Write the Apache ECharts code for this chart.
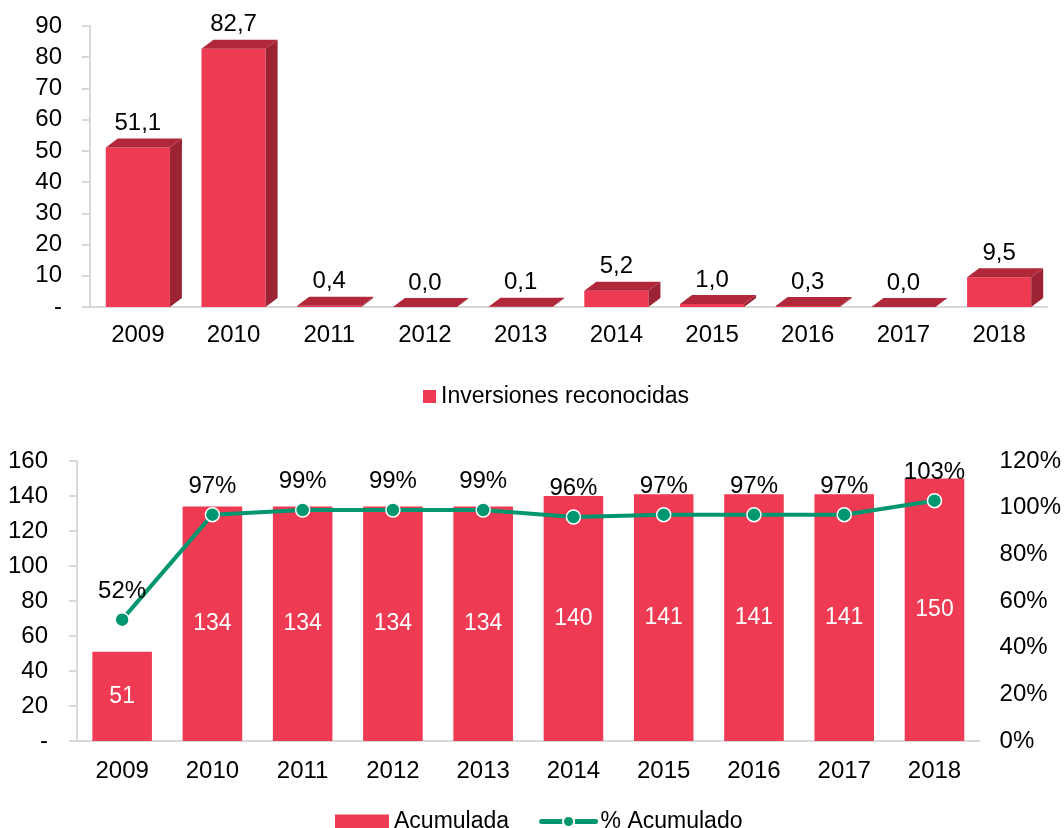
<!DOCTYPE html>
<html>
<head>
    <meta charset="utf-8">
    <title>Inversiones reconocidas</title>
    <script src="https://cdn.jsdelivr.net/npm/echarts@6/dist/echarts.min.js"></script>
    <style type="text/css">
        * {
            margin: 0px;
            padding: 0px;
        }

        #main {
            width: 1064px;
            height: 828px;
            background: #fff;
        }
    </style>
</head>
<body>
<div id="main"></div>
<script type="text/javascript">
    // datos
    var years = ['2009', '2010', '2011', '2012', '2013', '2014', '2015', '2016', '2017', '2018'];
    var inversiones = [51.1, 82.7, 0.4, 0.0, 0.1, 5.2, 1.0, 0.3, 0.0, 9.5];
    var acumulada = [51, 134, 134, 134, 134, 140, 141, 141, 141, 150];
    var pctAcumulado = [52, 97, 99, 99, 99, 96, 97, 97, 97, 103];

    var font = 'Liberation Sans, Arial, sans-serif';
    var fs = 24;
    var red = '#ee3a52';
    var redSide = '#9c2334';
    var redTop = '#b1283b';
    var green = '#00966f';
    var axisGray = '#d9d9d9';

    var myChart = echarts.init(document.getElementById('main'));

    // barra con efecto 3D (cara frontal, lateral y superior)
    function render3d(params, api) {
        var v = api.value(1);
        var base = api.coord([api.value(0), 0]);
        var top = api.coord([api.value(0), v]);
        var w = api.size([1, 0])[0] * 0.67;
        var dx = 12, dy = 9;
        var x0 = base[0] - w / 2, x1 = base[0] + w / 2;
        var yb = base[1], yt = top[1];
        return {
            type: 'group',
            children: [
                {type: 'polygon', shape: {points: [[x0, yb], [x1, yb], [x1, yt], [x0, yt]]}, style: {fill: red}},
                {type: 'polygon', shape: {points: [[x1, yb], [x1 + dx, yb - dy], [x1 + dx, yt - dy], [x1, yt]]}, style: {fill: redSide}},
                {type: 'polygon', shape: {points: [[x0, yt], [x1, yt], [x1 + dx, yt - dy], [x0 + dx, yt - dy]]}, style: {fill: redTop}},
                {
                    type: 'text',
                    style: {
                        x: base[0], y: yt - dy - 3,
                        text: v.toFixed(1).replace('.', ','),
                        align: 'center', verticalAlign: 'bottom',
                        fill: '#000', font: fs + 'px ' + font
                    }
                }
            ]
        };
    }

    var dashZero = function (v) { return v === 0 ? '-' : v; };

    var option = {
        animation: false,
        textStyle: {fontFamily: font, color: '#000'},
        legend: [{
            left: 418, top: 380,
            itemWidth: 13, itemHeight: 13, itemGap: 30,
            textStyle: {fontSize: 23, color: '#000', fontFamily: font},
            data: [{name: 'Inversiones reconocidas', icon: 'rect', itemStyle: {color: red}}]
        }, {
            left: 330, top: 805,
            itemWidth: 54, itemHeight: 14, itemGap: 30,
            textStyle: {fontSize: 23, color: '#000', fontFamily: font},
            data: [
                {name: 'Acumulada', icon: 'rect'},
                {name: '% Acumulado', lineStyle: {width: 5, cap: 'round'}}
            ]
        }],
        grid: [
            {left: 90, right: 17, top: 26, bottom: 521},
            {left: 77, right: 82, top: 461, bottom: 87}
        ],
        xAxis: [{
            type: 'category', gridIndex: 0, data: years,
            axisLine: {lineStyle: {color: axisGray, width: 2}},
            axisTick: {length: 6, lineStyle: {color: axisGray, width: 2}},
            axisLabel: {fontSize: fs, color: '#000', margin: 16}
        }, {
            type: 'category', gridIndex: 1, data: years,
            axisLine: {lineStyle: {color: axisGray, width: 2}},
            axisTick: {length: 6, lineStyle: {color: axisGray, width: 2}},
            axisLabel: {fontSize: fs, color: '#000', margin: 18}
        }],
        yAxis: [{
            type: 'value', gridIndex: 0, min: 0, max: 90, interval: 10,
            axisLine: {show: true, lineStyle: {color: axisGray, width: 2}},
            axisTick: {show: true, length: 8, lineStyle: {color: axisGray, width: 2}},
            splitLine: {show: false},
            axisLabel: {fontSize: fs, color: '#000', margin: 28, formatter: dashZero}
        }, {
            type: 'value', gridIndex: 1, min: 0, max: 160, interval: 20,
            axisLine: {show: true, lineStyle: {color: axisGray, width: 2}},
            axisTick: {show: true, length: 8, lineStyle: {color: axisGray, width: 2}},
            splitLine: {show: false},
            axisLabel: {fontSize: fs, color: '#000', margin: 29, formatter: dashZero}
        }, {
            type: 'value', gridIndex: 1, position: 'right', min: 0, max: 120, interval: 20,
            axisLine: {show: false},
            axisTick: {show: false},
            splitLine: {show: false},
            axisLabel: {fontSize: fs, color: '#000', margin: 20, formatter: '{value}%'}
        }],
        series: [{
            name: 'Inversiones reconocidas',
            type: 'custom',
            xAxisIndex: 0, yAxisIndex: 0,
            itemStyle: {color: red},
            renderItem: render3d,
            encode: {x: 0, y: 1},
            data: years.map(function (y, i) { return [y, inversiones[i]]; })
        }, {
            name: 'Acumulada',
            type: 'bar',
            xAxisIndex: 1, yAxisIndex: 1,
            barWidth: '66%',
            itemStyle: {color: red},
            label: {show: true, position: 'inside', color: '#fff', fontSize: 23, fontFamily: font},
            data: acumulada
        }, {
            name: '% Acumulado',
            type: 'line',
            xAxisIndex: 1, yAxisIndex: 2,
            symbol: 'circle', symbolSize: 14,
            lineStyle: {color: green, width: 4},
            itemStyle: {color: green, borderColor: '#fff', borderWidth: 1.5},
            label: {show: true, position: 'top', distance: 9, color: '#000', fontSize: fs, fontFamily: font, formatter: '{c}%'},
            z: 5,
            data: pctAcumulado
        }]
    };

    myChart.setOption(option);
</script>
</body>
</html>
